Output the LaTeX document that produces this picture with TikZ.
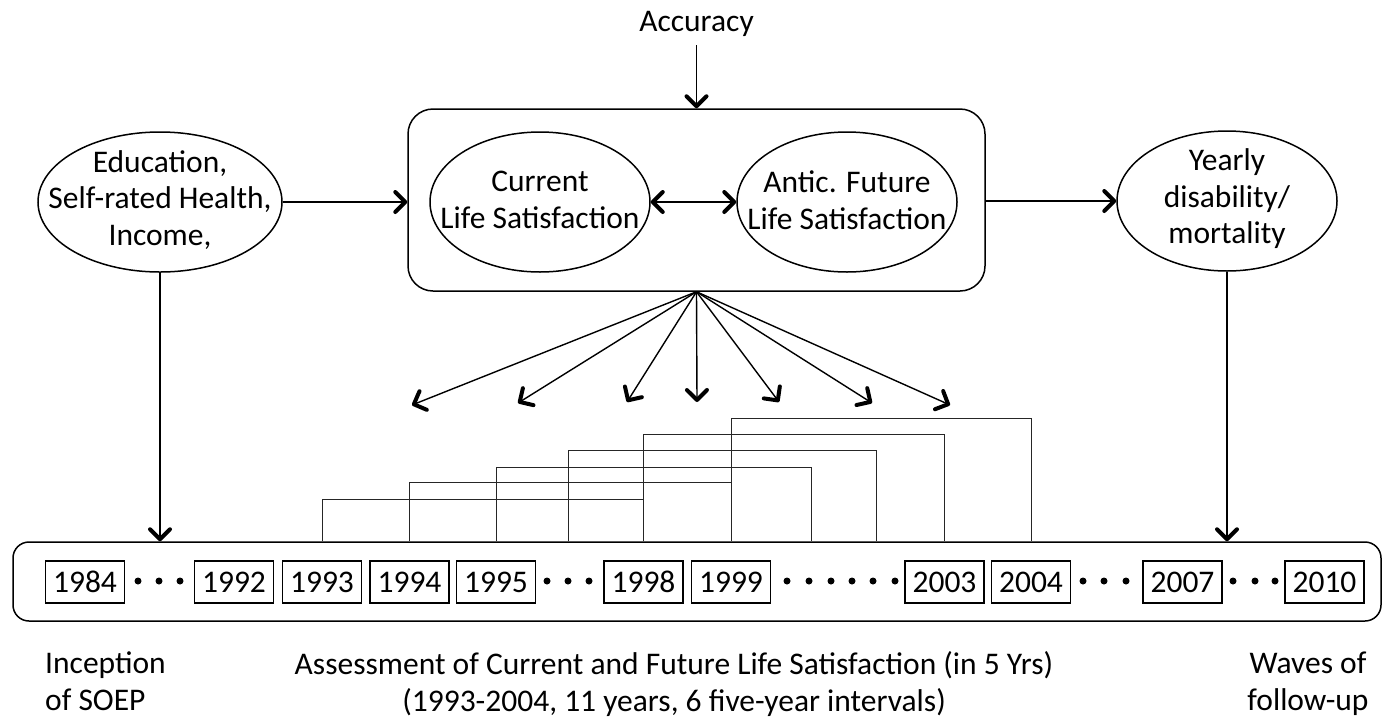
\documentclass[tikz,border=0pt]{standalone}
\usepackage{fontspec}
\setmainfont{Carlito}
\usetikzlibrary{arrows.meta,shapes.geometric}
\tikzset{
  txt/.style={font=\fontsize{31.5}{36.5}\selectfont, align=center, inner sep=0pt},
  oval/.style={draw, ellipse, line width=1.5pt, inner sep=0pt},
  yearbox/.style={draw, line width=1.2pt, minimum width=79pt, minimum height=42pt, inner sep=0pt, text height=20pt, text depth=0pt, font=\fontsize{31.5}{36}\selectfont},
  arr/.style={line width=1.4pt, -{Straight Barb[length=10pt,width=20pt,line width=4pt,round]}},
  darr/.style={line width=1.4pt, {Straight Barb[length=10pt,width=20pt,line width=4pt,round]}-{Straight Barb[length=10pt,width=20pt,line width=4pt,round]}},
  brk/.style={line width=1pt, black!85},
  dotmark/.style={circle, fill=black, minimum size=7pt, inner sep=0pt},
}
\begin{document}
\begin{tikzpicture}[x=1pt, y=-1pt]
\useasboundingbox (0,0) rectangle (1384,721);

% top label
\node[txt, anchor=base] (acc) at (696.5,31.7) {Accuracy};

% big rounded rectangle
\node[draw, rounded corners=25pt, line width=1.5pt, minimum width=577pt, minimum height=182pt, inner sep=0pt] (big) at (696.5,200) {};

% ellipses (shape and text separately so the shape keeps its size)
\node[oval, minimum width=244pt, minimum height=140pt] (edu) at (160,202) {};
\node[txt] (edutxt) at (160,200) {Education,\\Self-rated Health,\\Income,};
\node[oval, minimum width=220pt, minimum height=140pt] (cur) at (540,202) {};
\node[txt] (curtxt) at (540,200) {Current\\Life Satisfaction};
\node[oval, minimum width=220pt, minimum height=140pt] (ant) at (847,202) {};
\node[txt] (anttxt) at (847,200) {Antic. Future\\Life Satisfaction};
\node[oval, minimum width=220pt, minimum height=140pt] (yr) at (1227,201) {};
\node[txt] (yrtxt) at (1227,199) {Yearly\\disability/\\mortality};

% timeline
\node[draw, rounded corners=16pt, line width=1.5pt, minimum width=1368pt, minimum height=79pt, inner sep=0pt] (tl) at (697,581.5) {};

% year boxes
\foreach \yy/\xx in {1984/85, 1992/234, 1993/322, 1994/409.5, 1995/496, 1998/643.5, 1999/731, 2003/944.5, 2004/1031, 2007/1182.5, 2010/1324.5}
  \node[yearbox] (y\yy) at (\xx,582) {\yy};

% dots
\foreach \xx [count=\i] in {138,159,180, 547,568,589, 787,809,831,852,873,895, 1083,1104,1126, 1233,1255,1275}
  \node[dotmark] (d\i) at (\xx,581) {};

% arrows
\coordinate (acctop) at (696.5,45);
\draw[arr] (acctop) -- (big.north);
\draw[arr] (edu.east) -- (big.west |- edu.east);
\draw[darr] (cur.east) -- (ant.west);
\draw[arr] (big.east |- yr.west) -- (yr.west);
\draw[arr] (edu.south) -- (edu.south |- tl.north);
\draw[arr] (yr.south) -- (yr.south |- tl.north);

% fan
\foreach \xx/\yy [count=\i] in {412/405, 518/403, 627/402, 697/402, 779/402, 872/403, 950/405}{
  \coordinate (f\i) at (\xx,\yy);
  \draw[arr] (big.south) -- (f\i);
}

% brackets
\foreach \a/\b/\h in {322/643.5/499, 409.5/731/482, 496/811/467, 568/876/450, 643.5/944.5/434, 731/1031/418}{
  \coordinate (ba) at (\a,\h);
  \coordinate (bb) at (\b,\h);
  \draw[brk] (ba |- tl.north) -- (ba) -- (bb) -- (bb |- tl.north);
}

% bottom labels (base anchor = baseline of the last line)
\node[txt, align=left, anchor=base west] (inc) at (45,710) {Inception\\of SOEP};
\node[txt, anchor=base] (ass) at (674,711) {Assessment of Current and Future Life Satisfaction (in 5 Yrs)\\(1993-2004, 11 years, 6 five-year intervals)};
\node[txt, anchor=base] (wav) at (1308,710) {Waves of\\follow-up};
\end{tikzpicture}
\end{document}
